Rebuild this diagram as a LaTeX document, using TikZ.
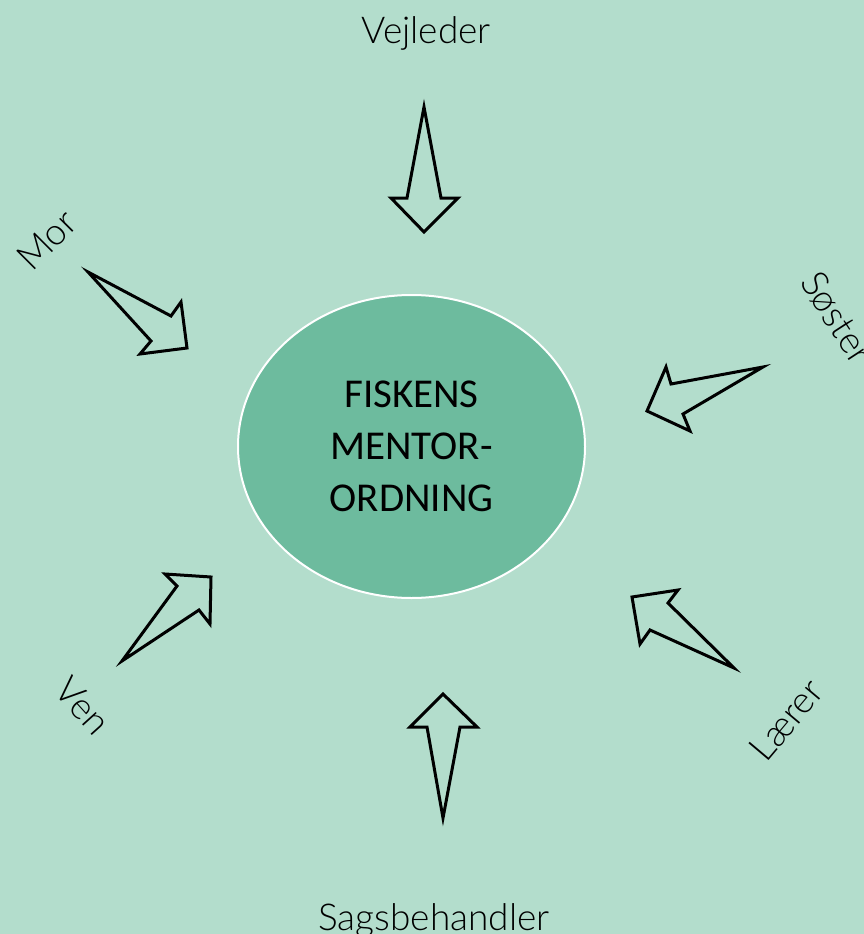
\documentclass[tikz,border=0pt]{standalone}
\usepackage{fontspec}
\setmainfont{Carlito}
\newfontfamily\tynd{Lato Light}
\usetikzlibrary{shapes.geometric}
\definecolor{baggrund}{RGB}{179,221,204}
\definecolor{fiskgroen}{RGB}{109,187,158}
\tikzset{
  pil/.style={draw=black, line width=3pt, line join=miter},
  rolle/.style={font=\tynd\fontsize{37}{44}\selectfont, inner sep=0pt},
}
\begin{document}
\begin{tikzpicture}[x=1pt, y=-1pt]
    \fill[baggrund] (0,0) rectangle (864,934);
    \useasboundingbox (0,0) rectangle (864,934);
    \clip (0,0) rectangle (864,934);

    \node[ellipse, draw=white, line width=2pt, fill=fiskgroen,
          minimum width=347pt, minimum height=303pt, inner sep=0pt,
          align=center, font=\fontsize{41}{52}\selectfont] (fisk) at (411.5,446.5)
          {FISKENS\\MENTOR-\\ORDNING};

    % pilene
    \draw [pil] (424,107) -- (441,198) -- (458,198) -- (424,232) -- (391,198) -- (407,198) -- cycle;
    \draw [pil] (443,818) -- (460,727) -- (477,727) -- (443,694) -- (410,727) -- (427,727) -- cycle;
    \draw [pil] (88,272) -- (171,316) -- (181,302) -- (187,348) -- (140,354) -- (151,341) -- cycle;
    \draw [pil] (763,367) -- (671,384) -- (666,367) -- (647,411) -- (690,431) -- (683,414) -- cycle;
    \draw [pil] (122,661) -- (199,610) -- (210,624) -- (211,577) -- (165,574) -- (177,586) -- cycle;
    \draw [pil] (734,668) -- (668,603) -- (678,590) -- (632,597) -- (640,644) -- (650,630) -- cycle;

    \node[rolle, anchor=base] (vejleder) at (426,44) {Vejleder};
    \node[rolle, anchor=base] (sagsbeh) at (434,930) {Sagsbehandler};
    \node[rolle, rotate=45] (mor) at (47,240) {Mor};
    \node[rolle, rotate=-57] (soester) at (837,318) {Søster};
    \node[rolle, rotate=-48] (ven) at (83,706) {Ven};
    \node[rolle, rotate=50] (laerer) at (786,720) {Lærer};
\end{tikzpicture}
\end{document}
